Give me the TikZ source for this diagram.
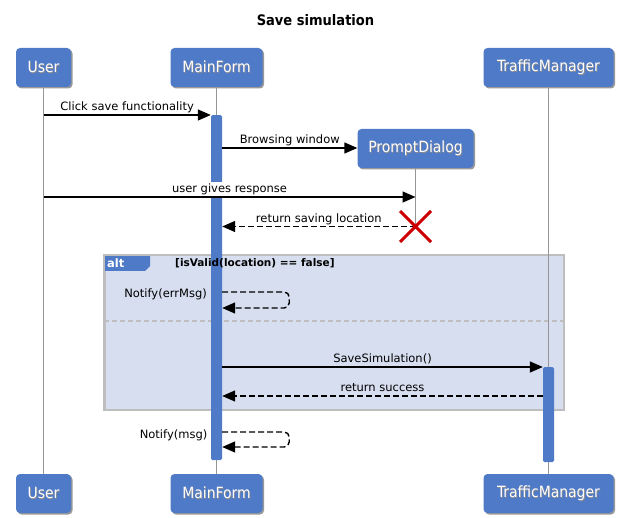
\documentclass[tikz,border=0pt]{standalone}
\usepackage{fontspec}
\setmainfont{DejaVu Sans}
\newfontfamily\condfont{DejaVu Sans Condensed}
\usetikzlibrary{arrows.meta,shadows}

\definecolor{boxblue}{RGB}{79,122,199}
\definecolor{framefill}{RGB}{214,222,240}
\definecolor{framegray}{RGB}{190,190,190}
\definecolor{lifegray}{RGB}{150,150,150}
\definecolor{xred}{RGB}{204,0,0}

% white label text with a soft dark offset copy behind it
\newcommand\shadowtext[1]{\makebox[0pt][l]{\kern0.8pt\raisebox{-0.8pt}{\color{black!45}#1}}#1}

\begin{document}
\begin{tikzpicture}[x=1pt,y=-1pt,
  actor/.style={fill=boxblue, rounded corners=4pt, minimum height=39pt,
    inner sep=0pt, text=white, font=\condfont\fontsize{15.5}{18}\selectfont,
    drop shadow={shadow xshift=1.5pt, shadow yshift=-1.5pt, opacity=0.4, fill=black}},
  lifeline/.style={draw=lifegray, line width=1.2pt},
  actbar/.style={fill=boxblue, minimum width=11pt, inner sep=0pt, rounded corners=1.5pt, anchor=north},
  msg/.style={draw=black, line width=1.4pt, -{Triangle[length=13pt,width=11pt]}},
  rmsg/.style={msg, dash pattern=on 6pt off 3pt},
  lbl/.style={font=\fontsize{11.5}{13}\selectfont, inner sep=1pt, text height=8.5pt, text depth=2.5pt},
  whitelbl/.style={lbl, fill=white},
  frame/.style={draw=framegray, fill=framefill, line width=1.5pt, inner sep=0pt, anchor=north west},
  sepline/.style={draw=framegray, line width=1.2pt, dash pattern=on 5pt off 3pt},
]
\useasboundingbox (0,0) rectangle (631,518);

% title
\node[font=\condfont\bfseries\fontsize{14.5}{16}\selectfont] (title) at (315.5,20) {Save simulation};

% alt frame (behind lifelines)
\node[frame, minimum width=459pt, minimum height=154pt] (altframe) at (104,255) {};
\fill[boxblue] (altframe.north west) -- ++(46,0) -- ++(0,11) -- ++(-5,5) -- ++(-41,0) -- cycle;
\draw[framegray, line width=1.5pt] (altframe.north west) rectangle (altframe.south east);
\node[anchor=base west, text=white, font=\bfseries\fontsize{11.5}{13}\selectfont, inner sep=0pt] (alttag) at (107,267.5) {alt};
\coordinate (sepy) at (0,321);
\draw[sepline] (altframe.west |- sepy) -- (altframe.east |- sepy);

% participants, top and bottom
\node[actor, minimum width=55pt] (user) at (43.5,67.5) {\shadowtext{User}};
\node[actor, minimum width=92pt] (mf) at (216.5,67.5) {\shadowtext{MainForm}};
\node[actor, minimum width=130pt] (tm) at (548.5,67.5) {\shadowtext{TrafficManager}};
\node[actor, minimum width=116pt] (pd) at (415.5,148.5) {\shadowtext{PromptDialog}};
\node[actor, minimum width=55pt] (userB) at (43.5,493.5) {\shadowtext{User}};
\node[actor, minimum width=92pt] (mfB) at (216.5,493.5) {\shadowtext{MainForm}};
\node[actor, minimum width=130pt] (tmB) at (548.5,493.5) {\shadowtext{TrafficManager}};

% lifelines
\coordinate (pdend) at (415.5,226.5);
\draw[lifeline] (user.south) -- (userB.north);
\draw[lifeline] (mf.south) -- (mfB.north);
\draw[lifeline] (tm.south) -- (tmB.north);
\draw[lifeline] (pd.south) -- (pdend);

% activation bars
\node[actbar, minimum height=345pt] (mfbar) at (216.5,115) {};
\node[actbar, minimum height=95pt] (tmbar) at (548.5,367) {};

% guard of the alt frame, printed over the bar
\node[anchor=base west, font=\bfseries\fontsize{10.5}{12}\selectfont, inner sep=0pt] (guard) at (175,267) {[isValid(location) == false]};

% message rows
\coordinate (r1) at (0,115);
\coordinate (r2) at (0,148);
\coordinate (r3) at (0,197);
\coordinate (r5a) at (0,292);
\coordinate (r5b) at (0,308);
\coordinate (r6) at (0,367);
\coordinate (r7) at (0,396);
\coordinate (r8a) at (0,432);
\coordinate (r8b) at (0,447);

\draw[msg] (user |- r1) -- node[whitelbl, above] (t1) {Click save functionality} (mfbar.west |- r1);
\draw[msg] (mfbar.east |- r2) -- node[whitelbl, above] (t2) {Browsing window} (pd.west |- r2);
\draw[msg] (user |- r3) -- node[whitelbl, above, text height=10pt] (t3) {user gives response} (pdend |- r3);
\draw[rmsg] (pdend) -- node[whitelbl, above] (t4) {return saving location} (mfbar.east |- pdend);

% destruction mark
\draw[xred, line width=3pt] (pdend) +(-15.5,-15.5) -- +(15.5,15.5) (pdend) +(-15.5,15.5) -- +(15.5,-15.5);

% inside the alt frame
\draw[rmsg, rounded corners=5pt] (mfbar.east |- r5a) -- ++(67,0) |- (mfbar.east |- r5b);
\node[lbl, anchor=base east] (t5) at (208,297.5) {Notify(errMsg)};
\draw[msg] (mfbar.east |- r6) -- node[lbl, above] (t6) {SaveSimulation()} (tmbar.west |- r6);
\draw[rmsg] (tmbar.west |- r7) -- node[lbl, above] (t7) {return success} (mfbar.east |- r7);

% closing self message
\draw[rmsg, rounded corners=5pt] (mfbar.east |- r8a) -- ++(67,0) |- (mfbar.east |- r8b);
\node[lbl, anchor=base east] (t8) at (208.5,438) {Notify(msg)};
\end{tikzpicture}
\end{document}
